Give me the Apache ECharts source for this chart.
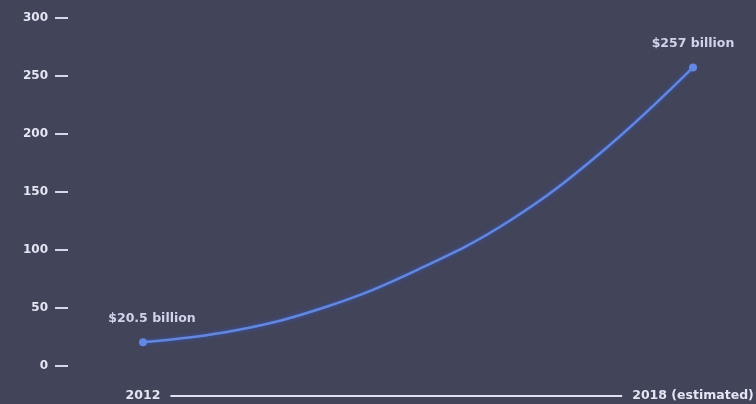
<!DOCTYPE html>
<html>
<head>
<meta charset="utf-8">
<script src="https://cdn.jsdelivr.net/npm/echarts@6/dist/echarts.min.js"></script>
<style>
html,body{margin:0;padding:0;background:#42445a;}
#chart{width:756px;height:404px;}
</style>
</head>
<body>
<div id="chart"></div>
<script>
var categories = ['2012', '2013', '2014', '2015', '2016', '2017', '2018 (estimated)'];
var values = [20.5, 30.5, 51, 83, 125, 184, 257];
var pointLabels = ['$20.5 billion', '', '', '', '', '', '$257 billion'];
var yTicks = [0, 50, 100, 150, 200, 250, 300];

var bg = '#42445a';
var font = 'DejaVu Sans';
var chart = echarts.init(document.getElementById('chart'));
var data = values.map(function (v, i) {
  var labeled = pointLabels[i] !== '';
  return {
    value: v,
    symbol: labeled ? 'circle' : 'none',
    label: { show: labeled, formatter: pointLabels[i], offset: i === 0 ? [9, 0] : [0, 0] }
  };
});
chart.setOption({
  backgroundColor: bg,
  animation: false,
  grid: { left: 143, right: 63, top: 17.5, bottom: 38, containLabel: false, outerBoundsMode: 'none' },
  xAxis: {
    type: 'category',
    data: categories,
    boundaryGap: false,
    offset: 30,
    axisLine: { show: true, onZero: false, lineStyle: { color: '#dfe1f2', width: 2 } },
    axisTick: { show: false },
    splitLine: { show: false },
    axisLabel: {
      interval: function (i) { return i === 0 || i === categories.length - 1; },
      margin: 0,
      verticalAlign: 'middle',
      color: '#e4e6f4',
      fontFamily: font,
      fontWeight: 'bold',
      fontSize: 12.5,
      backgroundColor: bg,
      padding: [2, 10, 2, 10]
    }
  },
  yAxis: {
    type: 'value',
    min: yTicks[0],
    max: yTicks[yTicks.length - 1],
    interval: 50,
    offset: 75,
    axisLine: { show: false },
    axisTick: { show: true, inside: false, length: 13, lineStyle: { color: '#d4d7ea', width: 2 } },
    splitLine: { show: false },
    axisLabel: {
      margin: 20,
      color: '#e4e6f4',
      fontFamily: font,
      fontWeight: 'bold',
      fontSize: 12
    }
  },
  series: [{
    type: 'line',
    data: data,
    smooth: 0.4,
    symbolSize: 8,
    showSymbol: true,
    lineStyle: { color: '#6387de', width: 2.5, shadowColor: 'rgba(50,90,210,0.8)', shadowBlur: 4 },
    itemStyle: { color: '#6287e4' },
    label: {
      position: 'top',
      distance: 13,
      color: '#cfd3ec',
      fontFamily: font,
      fontWeight: 'bold',
      fontSize: 12.5
    }
  }]
});
</script>
</body>
</html>
